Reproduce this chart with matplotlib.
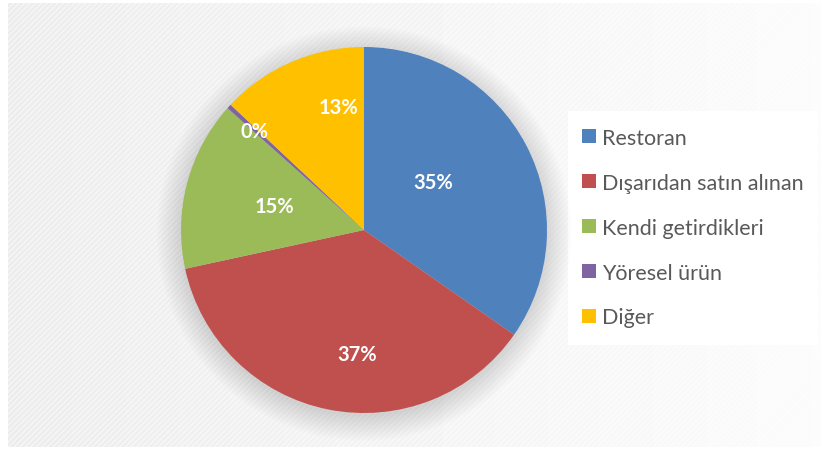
import numpy as np
import matplotlib.pyplot as plt
from matplotlib.patches import Rectangle, Circle

# dilimler (saat yönünde, tepeden başlayarak)
categories = ["Restoran", "Dışarıdan satın alınan", "Kendi getirdikleri", "Yöresel ürün", "Diğer"]
shares = [34.7, 36.9, 15.0, 0.4, 13.0]
pct_labels = ["35%", "37%", "15%", "0%", "13%"]
colors = ["#4F81BD", "#C0504D", "#9BBB59", "#8064A2", "#FFC000"]

# etiket konumları (pasta yarıçapı = 1)
label_pos = [(0.38, 0.26), (-0.04, -0.68), (-0.49, 0.13), (-0.60, 0.54), (-0.14, 0.67)]

fig = plt.figure(figsize=(8.22, 4.52), dpi=100)
fig.patch.set_facecolor("white")

# arka plan: soldan sağa açılan gri, ince çapraz doku
bg = fig.add_axes([8 / 822, 4 / 452, 812 / 822, 444 / 452])
bg.set_axis_off()
grad = np.linspace(0.925, 0.985, 256).reshape(1, -1)
bg.imshow(grad, cmap="gray", vmin=0, vmax=1, aspect="auto", extent=[0, 1, 0, 1])
bg.add_patch(Rectangle((0, 0), 1, 1, facecolor="none", edgecolor="#ffffff",
                       hatch="//////", linewidth=0, alpha=0.55))
bg.set_xlim(0, 1)
bg.set_ylim(0, 1)

# legend kutusu
bg.add_patch(Rectangle(((568 - 8) / 812, (452 - 346 - 4) / 444), 250 / 812, 234 / 444,
                       facecolor="white", edgecolor="none"))

ax = fig.add_axes([181 / 822, 38 / 452, 366 / 822, 366 / 452])
ax.set_aspect("equal")

# yumuşak gölge
for i in range(12):
    ax.add_patch(Circle((0.0, -0.02), 1.0 + 0.012 * i, facecolor="black",
                        edgecolor="none", alpha=0.012, zorder=0, clip_on=False))

wedges, _ = ax.pie(shares, colors=colors, startangle=90, counterclock=False,
                   radius=1.0, wedgeprops=dict(linewidth=0))
for w in wedges:
    w.set_zorder(2)

for txt, (x, y) in zip(pct_labels, label_pos):
    ax.text(x, y, txt, ha="center", va="center", color="white",
            fontsize=14.5, fontweight="bold", family="Lato", zorder=3)

ax.set_xlim(-1.0, 1.0)
ax.set_ylim(-1.0, 1.0)
ax.set_axis_off()

leg = fig.legend(wedges, categories, loc="upper left",
                 bbox_to_anchor=(573 / 822, 1 - 120 / 452),
                 frameon=False, fontsize=15.5, handlelength=0.65, handleheight=0.65,
                 handletextpad=0.3, labelspacing=1.16, borderaxespad=0)
for t in leg.get_texts():
    t.set_color("#595959")
    t.set_family("Lato")

fig.savefig("out.png", dpi=100)
